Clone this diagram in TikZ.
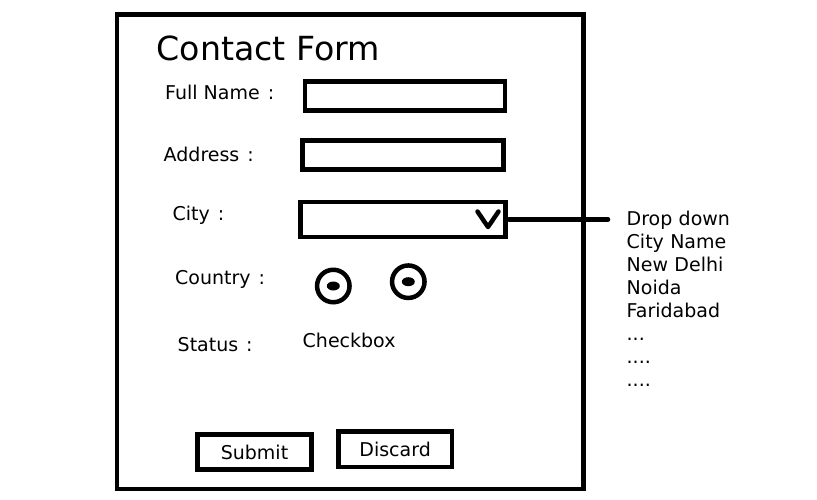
\documentclass[tikz,border=0pt]{standalone}
\usepackage{fontspec}
\setmainfont{DejaVu Sans}
\newcommand{\colonsep}{\hspace{0.42em}:}
\begin{document}
\begin{tikzpicture}[x=1pt,y=-1pt,
  thick/.style={line width=4.5pt},
  boxnode/.style={draw, thick, inner sep=0pt, outer sep=0pt},
  lbl/.style={anchor=base west, inner sep=0pt, font=\fontsize{19}{23}\selectfont},
  btn/.style={boxnode, font=\fontsize{19}{23}\selectfont},
  radio/.style={circle, draw, thick, inner sep=0pt, outer sep=0pt, minimum size=32.5pt},
  conn/.style={thick, line cap=round}]
\useasboundingbox (0,0) rectangle (817,499);
% frame
\node[boxnode, minimum width=466.5pt, minimum height=474.5pt] (frame) at (350.25,251.75) {};
% title
\node[anchor=base west, inner sep=0pt, font=\fontsize{33.2}{38}\selectfont] (title) at (156.5,60.5) {Contact Form};
% labels
\node[lbl] (lname) at (165,99.3) {Full Name\colonsep};
\node[lbl] (laddr) at (163.5,161.7) {Address\colonsep};
\node[lbl] (lcity) at (172.5,220) {City\colonsep};
\node[lbl] (lcountry) at (175,284) {Country\colonsep};
\node[lbl] (lstatus) at (177.5,351.7) {Status\colonsep};
\node[lbl] (chk) at (302.5,347.7) {Checkbox};
% fields
\node[boxnode, minimum width=200pt, minimum height=29pt] (fname) at (405,96) {};
\node[boxnode, minimum width=201.2pt, minimum height=29pt] (faddr) at (402.9,155) {};
\node[boxnode, minimum width=205pt, minimum height=35pt] (citybox) at (403,219.5) {};
\draw[thick, line join=round, line cap=round] (477.5,211.5) -- (488,227) -- (498.5,211.5);
% radios
\node[radio] (r1) at (333.3,286) {};
\fill (r1.center) ellipse [x radius=6.5pt, y radius=4.5pt];
\node[radio] (r2) at (408.3,281.7) {};
\fill (r2.center) ellipse [x radius=6.5pt, y radius=4.5pt];
% buttons
\node[btn, minimum width=114.4pt, minimum height=35pt] (submit) at (254.5,452) {Submit};
\node[btn, minimum width=113.7pt, minimum height=35.3pt] (discard) at (395.15,449.15) {Discard};
% dropdown list
\node[lbl, text width=130pt, align=left] (list) at (626.5,225) {Drop down\\City Name\\New Delhi\\Noida\\Faridabad\\...\\....\\....};
\coordinate (ddend) at (608,219.5);
\draw[conn] ([xshift=3.5pt]citybox.east) -- (ddend);
\end{tikzpicture}
\end{document}
